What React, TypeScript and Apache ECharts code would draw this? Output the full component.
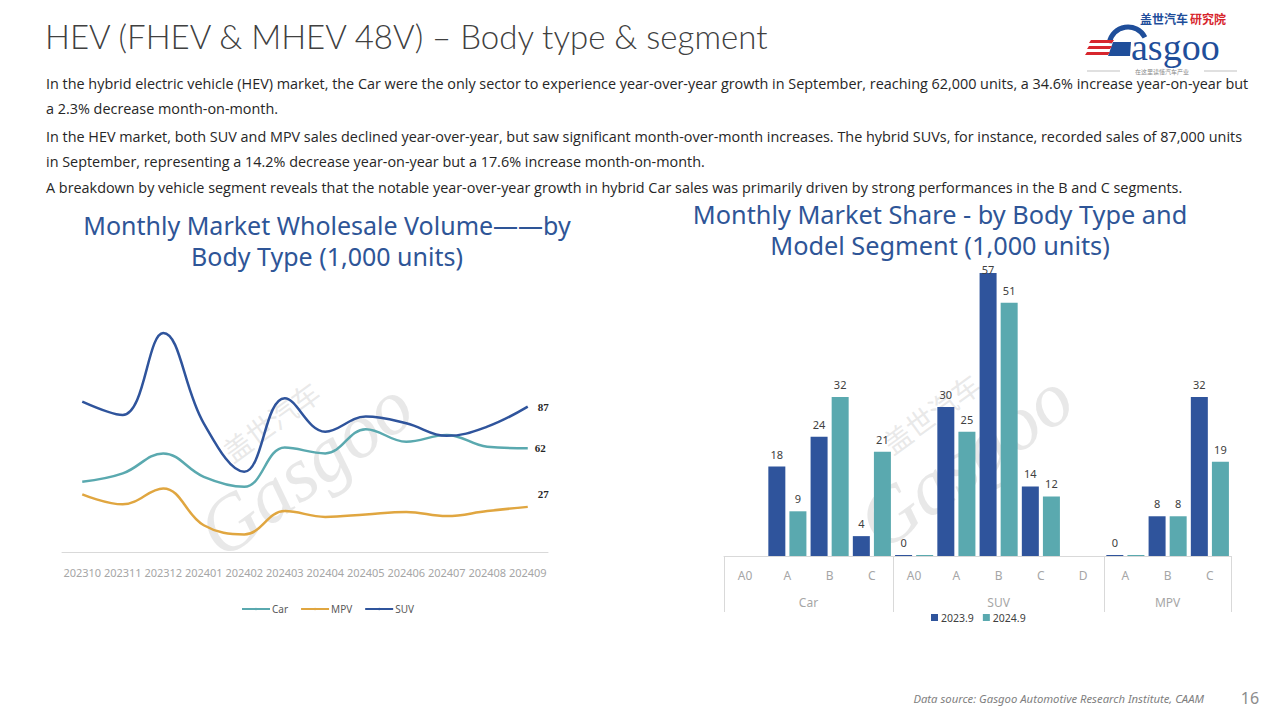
import React, { useEffect, useRef } from "react";
import * as echarts from "echarts";

// ---- Data ----
const months = ["202310", "202311", "202312", "202401", "202402", "202403", "202404", "202405", "202406", "202407", "202408", "202409"];
const carVolume = [42, 47, 59, 45, 39, 62.5, 59, 73.5, 66, 70, 63, 62];
const mpvVolume = [34.5, 28.5, 38, 16, 10.5, 24.5, 21, 22.5, 24, 21.5, 24.5, 27];
const suvVolume = [90, 82, 131, 77, 48, 92, 72, 81, 77, 69.5, 75, 87];

const segments = ["A0", "A", "B", "C", "A0", "A", "B", "C", "D", "A", "B", "C"];
const bodyGroups = ["Car", "SUV", "MPV"];
const groupBounds = [0, 4, 9, 12];
const sales2023 = [null, 18, 24, 4, 0, 30, 57, 14, null, 0, 8, 32];
const sales2024 = [null, 9, 32, 21, 0, 25, 51, 12, null, 0, 8, 19];

const paragraphLines = [
  "In the hybrid electric vehicle (HEV) market, the Car were the only sector to experience year-over-year growth in September, reaching 62,000 units, a 34.6% increase year-on-year but",
  "a 2.3% decrease month-on-month.",
  "In the HEV market, both SUV and MPV sales declined year-over-year, but saw significant month-over-month increases. The hybrid SUVs, for instance, recorded sales of 87,000 units",
  "in September, representing a 14.2% decrease year-on-year but a 17.6% increase month-on-month.",
  "A breakdown by vehicle segment reveals that the notable year-over-year growth in hybrid Car sales was primarily driven by strong performances in the B and C segments.",
];
const leftTitleLines = ["Monthly Market Wholesale Volume——by", "Body Type (1,000 units)"];
const rightTitleLines = ["Monthly Market Share - by Body Type and", "Model Segment (1,000 units)"];

const BLUE = "#2F549C";
const TEAL = "#5AA9AF";
const ORANGE = "#E0A640";
const TITLE_BLUE = "#2E5597";

export default function App() {
  const ref = useRef<HTMLDivElement>(null);

  useEffect(() => {
    if (!ref.current) return;
    const chart = echarts.init(ref.current, null, { renderer: "svg" });

    const groupCenters = bodyGroups.map((_, i) => (groupBounds[i] + groupBounds[i + 1]) / 2);
    const lineY = [83, 108, 136, 161, 187];
    const maxSale = Math.max(...(sales2023.filter((v) => v != null) as number[]));

    const titleText = (t: string, x: number, y: number, size: number) => ({
      type: "text",
      x,
      y,
      style: {
        text: t,
        fill: TITLE_BLUE,
        fontSize: size,
        lineHeight: 28,
        fontFamily: "Noto Sans",
        textAlign: "center",
        textVerticalAlign: "middle",
      },
    });

    const wm = (cx: number, cy: number) => ({
      type: "group",
      x: cx,
      y: cy,
      rotation: (36 * Math.PI) / 180,
      z: 100,
      children: [
        {
          type: "text",
          x: 0,
          y: 0,
          style: {
            text: "Gasgoo",
            fill: "rgba(205,205,205,0.45)",
            fontSize: 78,
            fontStyle: "italic",
            fontFamily: "Liberation Serif",
            textAlign: "center",
            textVerticalAlign: "middle",
          },
        },
        {
          type: "text",
          x: 0,
          y: -58,
          style: {
            text: "盖世汽车",
            fill: "rgba(205,205,205,0.45)",
            fontSize: 28,
            fontFamily: "Noto Sans CJK SC",
            textAlign: "center",
            textVerticalAlign: "middle",
          },
        },
      ],
    });

    const option: any = {
      animation: false,
      backgroundColor: "#ffffff",
      grid: [
        { left: 62, top: 318, width: 486, height: 234 },
        { left: 724, top: 258, width: 507, height: 298 },
      ],
      xAxis: [
        {
          type: "category",
          gridIndex: 0,
          data: months,
          boundaryGap: true,
          axisLine: { lineStyle: { color: "#d9d9d9" } },
          axisTick: { show: false },
          axisLabel: { color: "#a6a6a6", fontSize: 11, margin: 15, interval: 0, fontFamily: "Noto Sans" },
        },
        {
          type: "category",
          gridIndex: 1,
          data: segments,
          axisLine: { lineStyle: { color: "#d9d9d9" } },
          axisTick: { show: false },
          axisLabel: { color: "#a6a6a6", fontSize: 12, margin: 13, interval: 0, fontFamily: "Noto Sans" },
        },
        {
          type: "value",
          gridIndex: 1,
          min: 0,
          max: 12,
          position: "bottom",
          axisLine: { show: false },
          splitLine: { show: false },
          axisTick: {
            show: true,
            length: 56,
            customValues: groupBounds,
            lineStyle: { color: "#d9d9d9" },
          },
          axisLabel: {
            show: true,
            customValues: groupCenters,
            margin: 40,
            color: "#a6a6a6",
            fontSize: 12,
            fontFamily: "Noto Sans",
            formatter: (v: number) => {
              const i = groupCenters.findIndex((c) => Math.abs(c - v) < 1e-6);
              return i >= 0 ? bodyGroups[i] : "";
            },
          },
        },
      ],
      yAxis: [
        { type: "value", gridIndex: 0, min: 0, max: 140, show: false },
        { type: "value", gridIndex: 1, min: 0, max: 60, show: false },
      ],
      legend: [
        {
          data: ["Car", "MPV", "SUV"],
          left: 236,
          top: 599,
          itemWidth: 28,
          itemHeight: 3,
          itemGap: 12,
          textStyle: { fontSize: 10, color: "#595959", fontFamily: "Noto Sans", padding: [0, 0, 0, -3] },
        },
        {
          data: ["2023.9", "2024.9"],
          left: 926,
          top: 607,
          icon: "rect",
          itemWidth: 7,
          itemHeight: 7,
          itemGap: 9,
          textStyle: { fontSize: 10.5, color: "#404040", fontFamily: "Noto Sans", padding: [0, 0, 0, -2] },
        },
      ],
      series: [
        {
          name: "Car",
          type: "line",
          xAxisIndex: 0,
          yAxisIndex: 0,
          data: carVolume,
          smooth: 0.4,
          symbol: "none",
          lineStyle: { width: 2.5, color: TEAL },
          itemStyle: { color: TEAL },
          endLabel: { show: true, formatter: "{c}", distance: 7, fontSize: 11, fontWeight: "bold", color: "#262626", fontFamily: "Liberation Serif" },
        },
        {
          name: "MPV",
          type: "line",
          xAxisIndex: 0,
          yAxisIndex: 0,
          data: mpvVolume,
          smooth: 0.4,
          symbol: "none",
          lineStyle: { width: 2.5, color: ORANGE },
          itemStyle: { color: ORANGE },
          endLabel: { show: true, formatter: "{c}", distance: 10, offset: [0, -13], fontSize: 11, fontWeight: "bold", color: "#262626", fontFamily: "Liberation Serif" },
        },
        {
          name: "SUV",
          type: "line",
          xAxisIndex: 0,
          yAxisIndex: 0,
          data: suvVolume,
          smooth: 0.4,
          symbol: "none",
          lineStyle: { width: 2.5, color: BLUE },
          itemStyle: { color: BLUE },
          endLabel: { show: true, formatter: "{c}", distance: 10, fontSize: 11, fontWeight: "bold", color: "#262626", fontFamily: "Liberation Serif" },
        },
        {
          name: "2023.9",
          type: "bar",
          xAxisIndex: 1,
          yAxisIndex: 1,
          data: sales2023.map((v) => (v === maxSale ? { value: v, label: { distance: 0, offset: [0, 2] } } : v)),
          barWidth: 17,
          barGap: "24%",
          barMinHeight: 1,
          itemStyle: { color: BLUE },
          label: { show: true, position: "top", distance: 7, fontSize: 11, color: "#404040", fontFamily: "Noto Sans" },
        },
        {
          name: "2024.9",
          type: "bar",
          xAxisIndex: 1,
          yAxisIndex: 1,
          data: sales2024.map((v) => (v === 0 ? { value: 0, label: { show: false } } : v)),
          barWidth: 17,
          barGap: "24%",
          barMinHeight: 1,
          itemStyle: { color: TEAL },
          label: { show: true, position: "top", distance: 7, fontSize: 11, color: "#404040", fontFamily: "Noto Sans" },
        },
      ],
      graphic: [
        // Header
        {
          type: "text",
          x: 45,
          y: 36,
          style: {
            text: "HEV (FHEV & MHEV 48V) – Body type & segment",
            fill: "#404040",
            fontSize: 33,
            fontWeight: 300,
            fontFamily: "Lato",
            textAlign: "left",
            textVerticalAlign: "middle",
          },
        },
        ...paragraphLines.map((t, i) => ({
          type: "text",
          x: 46,
          y: lineY[i],
          style: {
            text: t,
            fill: "#262626",
            fontSize: 14.4,
            fontFamily: "Open Sans",
            textAlign: "left",
            textVerticalAlign: "middle",
          },
        })),
        // Chart titles
        titleText(leftTitleLines[0], 327, 225, 25),
        titleText(leftTitleLines[1], 327, 256, 25),
        titleText(rightTitleLines[0], 940, 214, 25.3),
        titleText(rightTitleLines[1], 940, 245, 25.3),
        // Footer
        {
          type: "text",
          x: 1204,
          y: 698,
          style: {
            text: "Data source: Gasgoo Automotive Research Institute, CAAM",
            fill: "#7f7f7f",
            fontSize: 11.3,
            fontStyle: "italic",
            fontFamily: "Noto Sans",
            textAlign: "right",
            textVerticalAlign: "middle",
          },
        },
        {
          type: "text",
          x: 1250,
          y: 698,
          style: { text: "16", fill: "#8c8c8c", fontSize: 16, fontFamily: "Noto Sans", textAlign: "center", textVerticalAlign: "middle" },
        },
        // Logo
        {
          type: "text",
          x: 1140,
          y: 18,
          style: { text: "盖世汽车", fill: "#1F4E9A", fontSize: 12, fontWeight: "bold", lineHeight: 12, fontFamily: "Noto Sans CJK SC", textAlign: "left", textVerticalAlign: "middle" },
        },
        {
          type: "text",
          x: 1190,
          y: 18,
          style: { text: "研究院", fill: "#D7262D", fontSize: 12, fontWeight: "bold", lineHeight: 12, fontFamily: "Noto Sans CJK SC", textAlign: "left", textVerticalAlign: "middle" },
        },
        {
          type: "arc",
          shape: { cx: 1128, cy: 46, r: 19, startAngle: Math.PI * 1.05, endAngle: Math.PI * 1.85 },
          style: { stroke: "#1F4E9A", lineWidth: 5, fill: "none" },
        },
        {
          type: "polygon",
          shape: { points: [[1113, 42], [1131, 42], [1130, 56], [1108, 56]] },
          style: { fill: "#1F4E9A" },
        },
        {
          type: "polygon",
          shape: { points: [[1091, 40], [1114, 40], [1112, 43], [1089, 43]] },
          style: { fill: "#D7262D" },
        },
        {
          type: "polygon",
          shape: { points: [[1089, 46], [1112, 46], [1110, 49], [1087, 49]] },
          style: { fill: "#D7262D" },
        },
        {
          type: "polygon",
          shape: { points: [[1087, 52], [1110, 52], [1108, 55], [1085, 55]] },
          style: { fill: "#D7262D" },
        },
        {
          type: "text",
          x: 1131,
          y: 47,
          style: { text: "asgoo", fill: "#1F4E9A", fontSize: 38, lineHeight: 24, fontFamily: "Liberation Serif", textAlign: "left", textVerticalAlign: "middle" },
        },
        {
          type: "line",
          shape: { x1: 1087, y1: 71, x2: 1120, y2: 71 },
          style: { stroke: "#999999", lineWidth: 0.6 },
        },
        {
          type: "line",
          shape: { x1: 1204, y1: 71, x2: 1237, y2: 71 },
          style: { stroke: "#999999", lineWidth: 0.6 },
        },
        {
          type: "text",
          x: 1162,
          y: 71,
          style: { text: "在这里读懂汽车产业", fill: "#888888", fontSize: 6, fontFamily: "Noto Sans CJK SC", textAlign: "center", textVerticalAlign: "middle" },
        },
        // Watermarks
        wm(305, 468),
        wm(965, 460),
      ],
    };

    chart.setOption(option);
    return () => chart.dispose();
  }, []);

  return <div ref={ref} style={{ position: "fixed", left: 0, top: 0, width: 1280, height: 720 }} />;
}
